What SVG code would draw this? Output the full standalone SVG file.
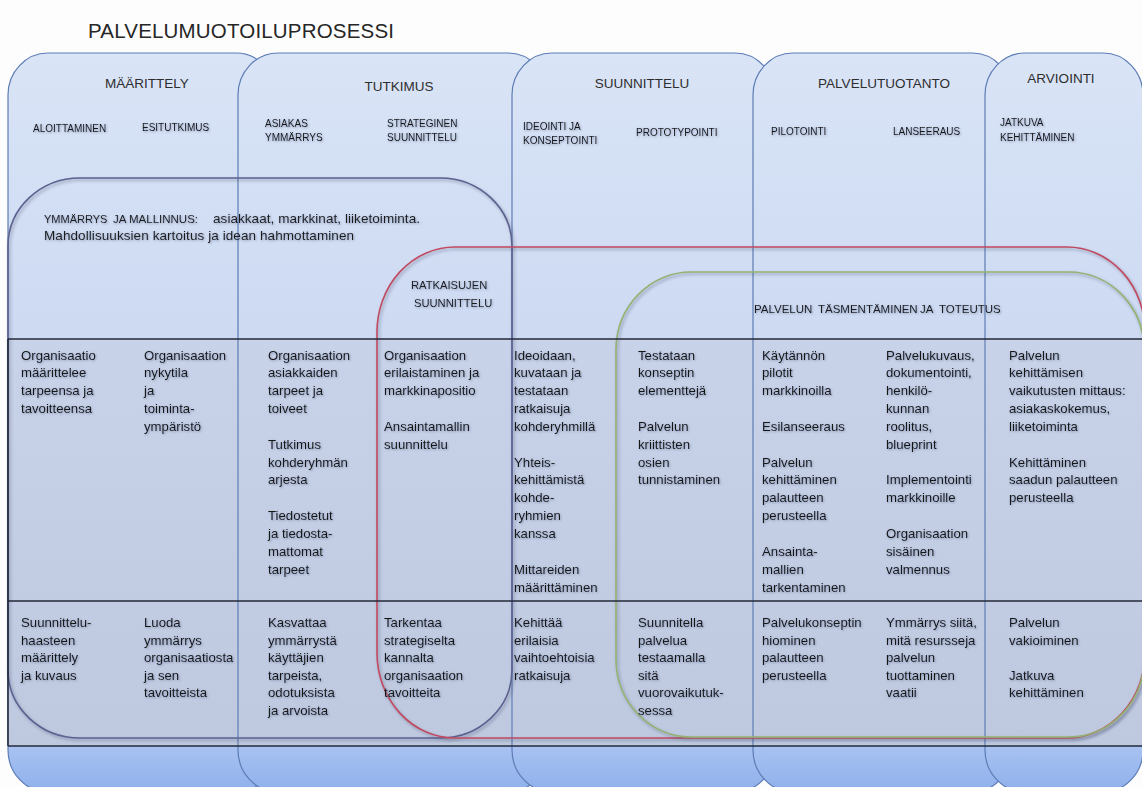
<svg xmlns="http://www.w3.org/2000/svg" width="1142" height="787" viewBox="0 0 1142 787">
<defs>
<linearGradient id="phaseFill" gradientUnits="userSpaceOnUse" x1="0" y1="53" x2="0" y2="792">
<stop offset="0" stop-color="#d9e4f6"/>
<stop offset="0.38" stop-color="#cddaf2"/>
<stop offset="0.9" stop-color="#b5cbf1"/>
<stop offset="0.935" stop-color="#a9c3f1"/>
<stop offset="1" stop-color="#8fb0ec"/>
</linearGradient>
<linearGradient id="tableFill" x1="0" y1="0" x2="0" y2="1">
<stop offset="0" stop-color="#c8d3e9"/>
<stop offset="1" stop-color="#bec9e0"/>
</linearGradient>
<filter id="outlineShadow" x="-5%" y="-5%" width="110%" height="110%">
<feDropShadow dx="1.5" dy="2" stdDeviation="1.5" flood-color="#3a3f60" flood-opacity="0.45"/>
</filter>
<filter id="textShadow" x="-5%" y="-10%" width="110%" height="120%">
<feDropShadow dx="0.8" dy="0.9" stdDeviation="1" flood-color="#5f6d8c" flood-opacity="0.65"/>
</filter>
<style>
text { font-family: "Liberation Sans", Arial, sans-serif; }
.phase { fill: url(#phaseFill); stroke: #5d7db5; stroke-width: 1.2; }
.hdr { font-size: 13.5px; fill: #2e2e2e; text-anchor: middle; }
.sub { font-size: 10px; fill: #141414; filter: url(#textShadow); }
.body { font-size: 13.2px; fill: #141414; filter: url(#textShadow); }
.rule { stroke: #232838; stroke-width: 1.6; fill: none; }
.divider { stroke: #5d7db5; stroke-width: 1.2; fill: none; }
.band { fill: none; stroke-width: 1.6; filter: url(#outlineShadow); }
.bandtext { fill: #1a1a1a; filter: url(#textShadow); }
</style>
</defs>

<rect x="0" y="0" width="1142" height="787" fill="#fdfdfd"/>

<text id="title" x="88" y="38" font-size="20.5" fill="#262626" textLength="306" lengthAdjust="spacing">PALVELUMUOTOILUPROSESSI</text>

<g id="phase-maarittely">
<rect class="phase" x="8" y="53" width="268" height="739" rx="40" ry="42"/>
<text class="hdr" x="147" y="88">MÄÄRITTELY</text>
<text class="sub" x="33" y="132">ALOITTAMINEN</text>
<text class="sub" x="142" y="131">ESITUTKIMUS</text>
</g>

<g id="phase-tutkimus">
<rect class="phase" x="238" y="53" width="310" height="739" rx="40" ry="42"/>
<text class="hdr" x="399" y="91">TUTKIMUS</text>
<text class="sub" x="265" y="127">ASIAKAS<tspan x="265" dy="14">YMMÄRRYS</tspan></text>
<text class="sub" x="387" y="127">STRATEGINEN<tspan x="387" dy="14">SUUNNITTELU</tspan></text>
</g>

<g id="phase-suunnittelu">
<rect class="phase" x="512" y="53" width="263" height="739" rx="40" ry="42"/>
<text class="hdr" x="642" y="88">SUUNNITTELU</text>
<text class="sub" x="523" y="130">IDEOINTI JA<tspan x="523" dy="13.5">KONSEPTOINTI</tspan></text>
<text class="sub" x="636" y="136">PROTOTYPOINTI</text>
</g>

<g id="phase-palvelutuotanto">
<rect class="phase" x="753" y="53" width="259" height="739" rx="40" ry="42"/>
<text class="hdr" x="884" y="88">PALVELUTUOTANTO</text>
<text class="sub" x="771" y="135">PILOTOINTI</text>
<text class="sub" x="893" y="135">LANSEERAUS</text>
</g>

<g id="phase-arviointi">
<rect class="phase" x="985" y="53" width="158" height="739" rx="40" ry="42"/>
<text class="hdr" x="1061" y="83">ARVIOINTI</text>
<text class="sub" x="1000" y="126">JATKUVA<tspan x="1000" dy="15">KEHITTÄMINEN</tspan></text>
</g>

<g id="table">
<rect x="8" y="339" width="1140" height="407" fill="url(#tableFill)"/>
<line class="divider" x1="238" y1="339" x2="238" y2="746"/>
<line class="divider" x1="512" y1="339" x2="512" y2="746"/>
<line class="divider" x1="753" y1="339" x2="753" y2="746"/>
<line class="divider" x1="985" y1="339" x2="985" y2="746"/>
</g>

<g id="ymmarrys">
<rect class="band" x="8" y="178" width="504" height="560" rx="72" ry="68" stroke="#5b6290"/>
<text class="bandtext" x="44" y="223" font-size="11">YMMÄRRYS</text>
<text class="bandtext" x="113" y="223" font-size="11.5">JA MALLINNUS:</text>
<text class="bandtext" x="213" y="223" font-size="13.5" textLength="207" lengthAdjust="spacing">asiakkaat, markkinat, liiketoiminta.</text>
<text class="bandtext" x="44" y="240" font-size="13.5" textLength="310" lengthAdjust="spacing">Mahdollisuuksien kartoitus ja idean hahmottaminen</text>
</g>

<g id="ratkaisujen">
<rect class="band" x="377" y="247" width="768" height="491" rx="78" ry="85" stroke="#c04a60"/>
<text class="bandtext" x="411" y="289" font-size="11.2">RATKAISUJEN</text>
<text class="bandtext" x="414" y="307" font-size="11.2">SUUNNITTELU</text>
</g>

<g id="tasmentaminen">
<rect class="band" x="616" y="272" width="528" height="465" rx="75" ry="78" stroke="#93b273"/>
<text class="bandtext" y="313" font-size="11.5"><tspan x="754">PALVELUN</tspan><tspan x="818">TÄSMENTÄMINEN</tspan><tspan x="920">JA</tspan><tspan x="939">TOTEUTUS</tspan></text>
</g>

<g id="rules">
<line class="rule" x1="8" y1="339" x2="1142" y2="339"/>
<line class="rule" x1="8" y1="601" x2="1142" y2="601"/>
<line class="rule" x1="8" y1="746" x2="1142" y2="746"/>
<line class="rule" x1="8" y1="339" x2="8" y2="746"/>
</g>

<g id="row1">
<text class="body" x="21" y="359.5">Organisaatio<tspan x="21" dy="17.85">määrittelee</tspan><tspan x="21" dy="17.85">tarpeensa ja</tspan><tspan x="21" dy="17.85">tavoitteensa</tspan></text>
<text class="body" x="144" y="359.5">Organisaation<tspan x="144" dy="17.85">nykytila</tspan><tspan x="144" dy="17.85">ja</tspan><tspan x="144" dy="17.85">toiminta-</tspan><tspan x="144" dy="17.85">ympäristö</tspan></text>
<text class="body" x="268" y="359.5">Organisaation<tspan x="268" dy="17.85">asiakkaiden</tspan><tspan x="268" dy="17.85">tarpeet ja</tspan><tspan x="268" dy="17.85">toiveet</tspan><tspan x="268" dy="35.7">Tutkimus</tspan><tspan x="268" dy="17.85">kohderyhmän</tspan><tspan x="268" dy="17.85">arjesta</tspan><tspan x="268" dy="35.7">Tiedostetut</tspan><tspan x="268" dy="17.85">ja tiedosta-</tspan><tspan x="268" dy="17.85">mattomat</tspan><tspan x="268" dy="17.85">tarpeet</tspan></text>
<text class="body" x="384" y="359.5">Organisaation<tspan x="384" dy="17.85">erilaistaminen ja</tspan><tspan x="384" dy="17.85">markkinapositio</tspan><tspan x="384" dy="35.7">Ansaintamallin</tspan><tspan x="384" dy="17.85">suunnittelu</tspan></text>
<text class="body" x="514" y="359.5">Ideoidaan,<tspan x="514" dy="17.85">kuvataan ja</tspan><tspan x="514" dy="17.85">testataan</tspan><tspan x="514" dy="17.85">ratkaisuja</tspan><tspan x="514" dy="17.85">kohderyhmillä</tspan><tspan x="514" dy="35.7">Yhteis-</tspan><tspan x="514" dy="17.85">kehittämistä</tspan><tspan x="514" dy="17.85">kohde-</tspan><tspan x="514" dy="17.85">ryhmien</tspan><tspan x="514" dy="17.85">kanssa</tspan><tspan x="514" dy="35.7">Mittareiden</tspan><tspan x="514" dy="17.85">määrittäminen</tspan></text>
<text class="body" x="638" y="359.5">Testataan<tspan x="638" dy="17.85">konseptin</tspan><tspan x="638" dy="17.85">elementtejä</tspan><tspan x="638" dy="35.7">Palvelun</tspan><tspan x="638" dy="17.85">kriittisten</tspan><tspan x="638" dy="17.85">osien</tspan><tspan x="638" dy="17.85">tunnistaminen</tspan></text>
<text class="body" x="762" y="359.5">Käytännön<tspan x="762" dy="17.85">pilotit</tspan><tspan x="762" dy="17.85">markkinoilla</tspan><tspan x="762" dy="35.7">Esilanseeraus</tspan><tspan x="762" dy="35.7">Palvelun</tspan><tspan x="762" dy="17.85">kehittäminen</tspan><tspan x="762" dy="17.85">palautteen</tspan><tspan x="762" dy="17.85">perusteella</tspan><tspan x="762" dy="35.7">Ansainta-</tspan><tspan x="762" dy="17.85">mallien</tspan><tspan x="762" dy="17.85">tarkentaminen</tspan></text>
<text class="body" x="886" y="359.5">Palvelukuvaus,<tspan x="886" dy="17.85">dokumentointi,</tspan><tspan x="886" dy="17.85">henkilö-</tspan><tspan x="886" dy="17.85">kunnan</tspan><tspan x="886" dy="17.85">roolitus,</tspan><tspan x="886" dy="17.85">blueprint</tspan><tspan x="886" dy="35.7">Implementointi</tspan><tspan x="886" dy="17.85">markkinoille</tspan><tspan x="886" dy="35.7">Organisaation</tspan><tspan x="886" dy="17.85">sisäinen</tspan><tspan x="886" dy="17.85">valmennus</tspan></text>
<text class="body" x="1009" y="359.5">Palvelun<tspan x="1009" dy="17.85">kehittämisen</tspan><tspan x="1009" dy="17.85">vaikutusten mittaus:</tspan><tspan x="1009" dy="17.85">asiakaskokemus,</tspan><tspan x="1009" dy="17.85">liiketoiminta</tspan><tspan x="1009" dy="35.7">Kehittäminen</tspan><tspan x="1009" dy="17.85">saadun palautteen</tspan><tspan x="1009" dy="17.85">perusteella</tspan></text>
</g>

<g id="row2">
<text class="body" x="21" y="627">Suunnittelu-<tspan x="21" dy="17.5">haasteen</tspan><tspan x="21" dy="17.5">määrittely</tspan><tspan x="21" dy="17.5">ja kuvaus</tspan></text>
<text class="body" x="144" y="627">Luoda<tspan x="144" dy="17.5">ymmärrys</tspan><tspan x="144" dy="17.5">organisaatiosta</tspan><tspan x="144" dy="17.5">ja sen</tspan><tspan x="144" dy="17.5">tavoitteista</tspan></text>
<text class="body" x="268" y="627">Kasvattaa<tspan x="268" dy="17.5">ymmärrystä</tspan><tspan x="268" dy="17.5">käyttäjien</tspan><tspan x="268" dy="17.5">tarpeista,</tspan><tspan x="268" dy="17.5">odotuksista</tspan><tspan x="268" dy="17.5">ja arvoista</tspan></text>
<text class="body" x="384" y="627">Tarkentaa<tspan x="384" dy="17.5">strategiselta</tspan><tspan x="384" dy="17.5">kannalta</tspan><tspan x="384" dy="17.5">organisaation</tspan><tspan x="384" dy="17.5">tavoitteita</tspan></text>
<text class="body" x="514" y="627">Kehittää<tspan x="514" dy="17.5">erilaisia</tspan><tspan x="514" dy="17.5">vaihtoehtoisia</tspan><tspan x="514" dy="17.5">ratkaisuja</tspan></text>
<text class="body" x="638" y="627">Suunnitella<tspan x="638" dy="17.5">palvelua</tspan><tspan x="638" dy="17.5">testaamalla</tspan><tspan x="638" dy="17.5">sitä</tspan><tspan x="638" dy="17.5">vuorovaikutuk-</tspan><tspan x="638" dy="17.5">sessa</tspan></text>
<text class="body" x="762" y="627">Palvelukonseptin<tspan x="762" dy="17.5">hiominen</tspan><tspan x="762" dy="17.5">palautteen</tspan><tspan x="762" dy="17.5">perusteella</tspan></text>
<text class="body" x="886" y="627">Ymmärrys siitä,<tspan x="886" dy="17.5">mitä resursseja</tspan><tspan x="886" dy="17.5">palvelun</tspan><tspan x="886" dy="17.5">tuottaminen</tspan><tspan x="886" dy="17.5">vaatii</tspan></text>
<text class="body" x="1009" y="627">Palvelun<tspan x="1009" dy="17.5">vakioiminen</tspan><tspan x="1009" dy="35">Jatkuva</tspan><tspan x="1009" dy="17.5">kehittäminen</tspan></text>
</g>
</svg>
